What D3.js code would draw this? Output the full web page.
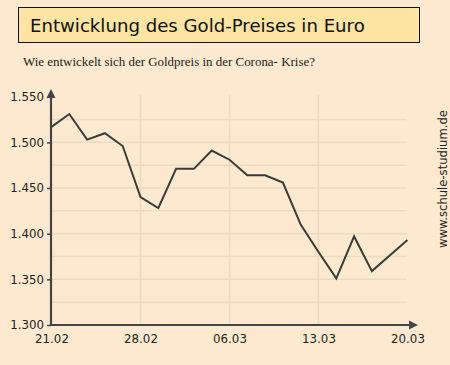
<!DOCTYPE html>
<html><head><meta charset="utf-8">
<script src="https://cdn.jsdelivr.net/npm/d3@7"></script>
<style>html,body{margin:0;padding:0;background:#fde9cf;}svg{display:block;}</style>
</head><body>
<script>
const dates = ["21.02","24.02","25.02","26.02","27.02","28.02","02.03","03.03","04.03","05.03","06.03","09.03","10.03","11.03","12.03","13.03","16.03","17.03","18.03","19.03","20.03"];
const prices = [1517,1531,1503,1510,1496,1440,1428,1471,1471,1491,1481,1464,1464,1456,1410,1380,1351,1397,1359,1376,1393];
const xTickLabels = ["21.02","28.02","06.03","13.03","20.03"];
const yTicks = [1300,1350,1400,1450,1500,1550];
const yGrid = [1325,1350,1375,1400,1425,1450,1475,1500,1525];
const titleText = "Entwicklung des Gold-Preises in Euro";
const subtitleText = "Wie entwickelt sich der Goldpreis in der Corona- Krise?";
const watermark = "www.schule-studium.de";

const W=450,H=365;
const svg=d3.select("body").append("svg").attr("width",W).attr("height",H);
svg.append("rect").attr("width",W).attr("height",H).attr("fill","#fde9cf");

// title box
svg.append("rect").attr("x",18.5).attr("y",7.5).attr("width",401).attr("height",35)
  .attr("fill","#fde4a3").attr("stroke","#111").attr("stroke-width",1);
function fit(t,w,base){t.attr("font-size",base);const l=t.node().getComputedTextLength();t.attr("font-size",base*w/l);}
const tt=svg.append("text").attr("x",30).attr("y",31.5).attr("font-family","DejaVu Sans, Verdana, sans-serif")
  .attr("fill","#111").text(titleText);
fit(tt,335,20);
const st=svg.append("text").attr("x",23).attr("y",66).attr("font-family","Liberation Serif, Georgia, serif")
  .attr("fill","#222").text(subtitleText);
fit(st,292,12.5);

const x=d3.scalePoint().domain(dates).range([51.5,407.5]);
const y=d3.scaleLinear().domain([1300,1550]).range([325,96.7]);

// grid
svg.append("g").selectAll("line").data(yGrid).join("line")
  .attr("x1",52).attr("x2",407).attr("y1",d=>y(d)).attr("y2",d=>y(d))
  .attr("stroke","#ecdac3").attr("stroke-width",1.5);
svg.append("g").selectAll("line").data(xTickLabels.slice(1,4)).join("line")
  .attr("x1",d=>x(d)).attr("x2",d=>x(d)).attr("y1",95).attr("y2",324)
  .attr("stroke","#ecdac3").attr("stroke-width",1.5);

// y axis
const ya=svg.append("g").attr("transform","translate(51,0)")
  .call(d3.axisLeft(y).tickValues(yTicks).tickSize(4).tickFormat(d3.format(",")).tickPadding(3));
ya.select(".domain").remove();
ya.selectAll(".tick line").attr("stroke","#444").attr("stroke-width",1.5);
ya.selectAll(".tick text").text(d=>d3.format(",")(d).replace(",",".")).attr("font-family","DejaVu Sans, Verdana, sans-serif").attr("font-size",11.8).attr("fill","#222");
ya.selectAll(".tick").filter(d=>d===1550).select("line").remove();

// x axis
const xa=svg.append("g").attr("transform","translate(0,325)")
  .call(d3.axisBottom(x).tickValues(xTickLabels).tickSize(0).tickPadding(10));
xa.select(".domain").remove();
xa.selectAll(".tick text").attr("font-family","DejaVu Sans, Verdana, sans-serif").attr("font-size",11.8).attr("fill","#222");

// axis lines with arrows
svg.append("line").attr("x1",51).attr("x2",51).attr("y1",326).attr("y2",95).attr("stroke","#444").attr("stroke-width",2.2);
svg.append("path").attr("d","M51,89 L46.5,98 L55.5,98 Z").attr("fill","#444");
svg.append("line").attr("x1",50).attr("x2",412).attr("y1",325).attr("y2",325).attr("stroke","#444").attr("stroke-width",2.2);
svg.append("path").attr("d","M418,325 L409,320.5 L409,329.5 Z").attr("fill","#444");

// data line
svg.append("path").datum(prices)
  .attr("d",d3.line().x((d,i)=>x(dates[i])).y(d=>y(d)))
  .attr("fill","none").attr("stroke","#3b3b3b").attr("stroke-width",2).attr("stroke-linejoin","miter");

// watermark
const wm=svg.append("text").attr("transform","translate(443.5,248) rotate(-90)")
  .attr("font-family","DejaVu Sans, Verdana, sans-serif").attr("fill","#222").attr("dominant-baseline","middle").text(watermark);
fit(wm,138,12);
</script>
</body></html>
